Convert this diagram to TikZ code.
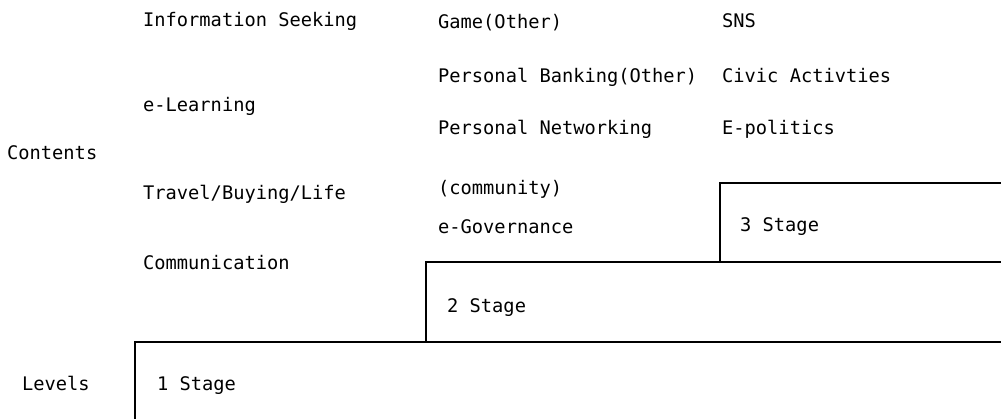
\documentclass[tikz,border=0pt]{standalone}
\usepackage{fontspec}
\setmonofont{DejaVu Sans Mono}
\usepackage{tikz}
\usetikzlibrary{positioning}
\tikzset{
    %Define style for labels
    eintrag/.style={
           anchor=base west,
           inner sep=0pt,
           font=\ttfamily\fontsize{18.7}{22}\selectfont},
    % Define style for the stage outlines
    stufe/.style={
           draw=black,
           line width=1.2pt}
}

\begin{document}
\begin{tikzpicture}[x=1pt,y=-1pt]
  \useasboundingbox (0,0) rectangle (1001,419);
  % stage outlines
  \draw[stufe] (1001,183) -- (720,183) -- (720,262);
  \draw[stufe] (1001,262) -- (426,262) -- (426,342);
  \draw[stufe] (1001,342) -- (135,342) -- (135,419);
  % row titles
  \node[eintrag] (contents) at (7,160) {Contents};
  \node[eintrag] (levels) at (22,390) {Levels};
  % first column
  \node[eintrag] (info) at (143,27) {Information Seeking};
  \node[eintrag] (elearn) at (143,112) {e-Learning};
  \node[eintrag] (travel) at (143,200) {Travel/Buying/Life};
  \node[eintrag] (comm) at (143,270) {Communication};
  % second column
  \node[eintrag] (game) at (438,29) {Game(Other)};
  \node[eintrag] (bank) at (438,83) {Personal Banking(Other)};
  \node[eintrag] (netw) at (438,135) {Personal Networking};
  \node[eintrag] (commty) at (438,195) {(community)};
  \node[eintrag] (egov) at (438,234) {e-Governance};
  % third column
  \node[eintrag] (sns) at (722,28) {SNS};
  \node[eintrag] (civic) at (722,83) {Civic Activties};
  \node[eintrag] (epol) at (722,135) {E-politics};
  % stage labels
  \node[eintrag] (st1) at (157,390) {1 Stage};
  \node[eintrag] (st2) at (447,313) {2 Stage};
  \node[eintrag] (st3) at (740,232) {3 Stage};
\end{tikzpicture}
\end{document}
